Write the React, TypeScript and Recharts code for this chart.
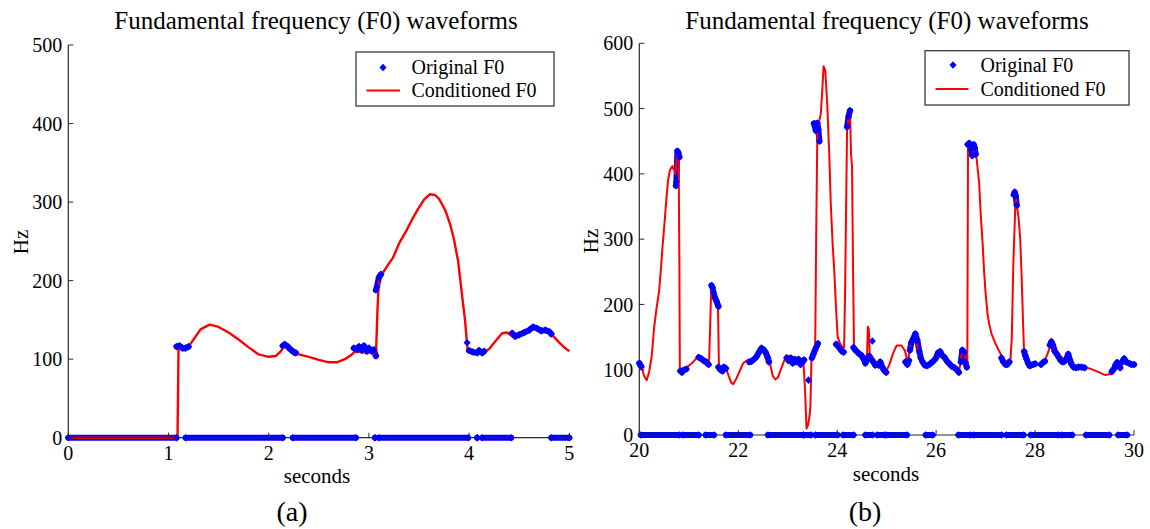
import React from 'react';
import { LineChart, Line, XAxis, YAxis } from 'recharts';

type Pt = [number, number];

const FONT = "'Liberation Serif', 'Times New Roman', Times, 'DejaVu Serif', serif";
const BLUE = '#0000ff';
const RED = '#ff0000';
const AXIS = '#2b2b2b';

const TITLE = 'Fundamental frequency (F0) waveforms';
const X_LABEL = 'seconds';
const Y_LABEL = 'Hz';
const SERIES_ORIGINAL = 'Original F0';
const SERIES_CONDITIONED = 'Conditioned F0';
const PANEL_A_CAPTION = '(a)';
const PANEL_B_CAPTION = '(b)';

// ---------------- Panel (a) ----------------
const A_X_TICKS = [0, 1, 2, 3, 4, 5];
const A_Y_TICKS = [0, 100, 200, 300, 400, 500];

const A_CONDITIONED: Pt[] = [
  [0, 0], [1.09, 0], [1.1, 112], [1.15, 114], [1.2, 116], [1.25, 125], [1.32, 138], [1.41, 144],
  [1.5, 141], [1.6, 134], [1.7, 125], [1.8, 115], [1.9, 106], [2.0, 103], [2.07, 104], [2.12, 110],
  [2.16, 117], [2.2, 113], [2.27, 107], [2.4, 103], [2.5, 99], [2.6, 96], [2.68, 96], [2.76, 100],
  [2.83, 106], [2.87, 111], [2.9, 109], [2.93, 113], [2.96, 108], [2.99, 113], [3.02, 111], [3.05, 106],
  [3.07, 104], [3.085, 160], [3.1, 202], [3.14, 210], [3.2, 222], [3.24, 229], [3.3, 247], [3.38, 265],
  [3.44, 280], [3.49, 291], [3.55, 303], [3.61, 310], [3.66, 309], [3.7, 304], [3.74, 295], [3.77, 287],
  [3.81, 272], [3.85, 252], [3.89, 225], [3.92, 192], [3.94, 170], [3.96, 149], [3.985, 111], [4.05, 110],
  [4.15, 109], [4.2, 113], [4.27, 124], [4.33, 133], [4.38, 134], [4.43, 129], [4.46, 128], [4.52, 132],
  [4.58, 135], [4.64, 140], [4.7, 137], [4.75, 135], [4.8, 134], [4.85, 128], [4.9, 121], [4.95, 115],
  [5.0, 110],
];

const A_VOICED: Pt[][] = [
  [[1.08, 116], [1.11, 117], [1.14, 114], [1.17, 114], [1.2, 116]],
  [[2.14, 117], [2.16, 119], [2.19, 116], [2.22, 112], [2.25, 109], [2.27, 108]],
  [[2.85, 114], [2.88, 112], [2.9, 116], [2.93, 111], [2.95, 117], [2.98, 110], [3.0, 114], [3.03, 110], [3.05, 112], [3.07, 104]],
  [[3.07, 188], [3.08, 192], [3.1, 204], [3.12, 208]],
  [[3.98, 121]],
  [[4.0, 111], [4.04, 109], [4.08, 108], [4.1, 111], [4.13, 108], [4.15, 110]],
  [[4.43, 133], [4.46, 129], [4.5, 131], [4.55, 134], [4.6, 137], [4.64, 141], [4.68, 139], [4.72, 136], [4.76, 137], [4.8, 135], [4.82, 132]],
];

// unvoiced frames (F0 = 0): [start, end] in seconds
const A_UNVOICED: Pt[] = [
  [0, 1.08], [1.17, 2.14], [2.24, 2.87], [3.06, 3.06], [3.1, 3.99], [4.08, 4.08], [4.13, 4.42], [4.82, 5.0],
];

// ---------------- Panel (b) ----------------
const B_X_TICKS = [20, 22, 24, 26, 28, 30];
const B_Y_TICKS = [0, 100, 200, 300, 400, 500, 600];

const B_CONDITIONED: Pt[] = [
  [20.0, 108], [20.05, 103], [20.1, 90], [20.15, 84], [20.2, 97], [20.25, 120], [20.3, 165], [20.35, 195],
  [20.4, 220], [20.44, 258], [20.47, 289], [20.51, 325], [20.54, 355], [20.58, 390], [20.62, 406], [20.67, 412],
  [20.71, 405], [20.73, 400], [20.76, 432], [20.795, 430], [20.81, 263], [20.82, 100], [20.86, 98], [20.92, 101],
  [21.0, 106], [21.09, 112], [21.15, 117], [21.2, 119], [21.3, 114], [21.38, 109], [21.41, 110], [21.43, 160],
  [21.45, 215], [21.48, 227], [21.52, 218], [21.56, 205], [21.59, 200], [21.61, 104], [21.66, 102], [21.72, 106],
  [21.76, 100], [21.8, 92], [21.86, 80], [21.9, 78], [21.96, 86], [22.03, 98], [22.1, 110], [22.17, 114],
  [22.27, 112], [22.34, 118], [22.4, 124], [22.48, 132], [22.53, 127], [22.59, 119], [22.64, 110], [22.7, 90],
  [22.75, 85], [22.8, 88], [22.86, 100], [22.92, 112], [22.97, 122], [23.02, 121], [23.06, 110], [23.1, 116],
  [23.14, 110], [23.18, 114], [23.22, 108], [23.27, 114], [23.32, 109], [23.35, 70], [23.38, 10], [23.41, 15],
  [23.44, 28], [23.46, 45], [23.48, 116], [23.52, 124], [23.555, 130], [23.575, 300], [23.6, 470], [23.64, 482],
  [23.67, 493], [23.7, 530], [23.725, 565], [23.76, 558], [23.8, 505], [23.84, 430], [23.87, 355], [23.91, 290],
  [23.94, 253], [23.98, 190], [24.01, 150], [24.06, 140], [24.1, 135], [24.14, 134], [24.16, 220], [24.2, 470],
  [24.24, 494], [24.26, 495], [24.28, 430], [24.3, 412], [24.32, 260], [24.34, 136], [24.4, 128], [24.47, 124],
  [24.54, 122], [24.58, 113], [24.6, 114], [24.62, 166], [24.64, 162], [24.66, 120], [24.71, 119], [24.78, 112],
  [24.85, 104], [24.88, 112], [24.95, 99], [24.99, 97], [25.06, 109], [25.13, 125], [25.2, 137], [25.3, 137],
  [25.37, 129], [25.43, 109], [25.47, 135], [25.52, 146], [25.58, 152], [25.63, 132], [25.68, 118], [25.74, 110],
  [25.8, 107], [25.89, 109], [25.99, 114], [26.07, 127], [26.13, 124], [26.2, 117], [26.27, 109], [26.34, 104],
  [26.41, 102], [26.46, 96], [26.5, 114], [26.53, 130], [26.57, 126], [26.6, 109], [26.63, 108], [26.645, 440],
  [26.68, 438], [26.73, 431], [26.77, 440], [26.8, 437], [26.83, 415], [26.87, 386], [26.9, 340], [26.94, 294],
  [26.97, 250], [27.0, 217], [27.04, 185], [27.07, 171], [27.12, 155], [27.2, 140], [27.27, 129], [27.35, 118],
  [27.42, 112], [27.5, 112], [27.53, 150], [27.56, 260], [27.6, 350], [27.62, 362], [27.645, 345], [27.67, 330],
  [27.7, 300], [27.73, 240], [27.76, 165], [27.78, 124], [27.84, 112], [27.9, 108], [27.98, 107], [28.1, 110],
  [28.19, 112], [28.27, 128], [28.33, 142], [28.4, 130], [28.47, 124], [28.54, 119], [28.6, 115], [28.65, 114],
  [28.68, 122], [28.72, 112], [28.76, 107], [28.85, 104], [28.95, 104], [29.1, 102], [29.2, 99], [29.3, 96],
  [29.41, 92], [29.51, 93], [29.57, 97], [29.62, 104], [29.67, 107], [29.72, 102], [29.79, 112], [29.86, 109],
  [30.0, 107],
];

const B_VOICED: Pt[][] = [
  [[20.0, 110], [20.02, 107], [20.04, 105]],
  [[20.74, 382], [20.75, 388], [20.77, 435], [20.79, 432], [20.81, 426]],
  [[20.83, 98], [20.86, 96], [20.89, 99], [20.95, 101]],
  [[21.2, 119], [21.25, 117], [21.3, 114], [21.35, 112], [21.4, 108]],
  [[21.46, 229], [21.48, 226], [21.5, 218], [21.53, 210], [21.56, 205], [21.6, 197]],
  [[21.6, 104], [21.64, 100], [21.68, 98], [21.71, 104], [21.75, 102]],
  [[22.22, 112], [22.27, 113], [22.32, 116], [22.37, 120], [22.42, 127], [22.47, 133], [22.51, 131], [22.55, 127], [22.6, 118], [22.62, 112]],
  [[22.98, 118], [23.02, 114], [23.06, 118], [23.1, 110], [23.14, 116], [23.18, 112], [23.22, 116], [23.26, 108], [23.3, 112], [23.33, 115]],
  [[23.42, 84]],
  [[23.49, 118], [23.52, 124], [23.55, 130], [23.58, 135], [23.61, 140]],
  [[23.53, 477], [23.55, 472], [23.57, 466], [23.6, 478], [23.62, 468], [23.64, 450]],
  [[23.98, 139], [24.02, 136], [24.06, 132], [24.1, 128], [24.13, 127]],
  [[24.2, 472], [24.23, 488], [24.26, 497]],
  [[24.33, 134], [24.37, 130], [24.41, 127], [24.45, 124], [24.49, 122], [24.53, 117], [24.57, 110], [24.61, 118], [24.65, 121], [24.69, 116], [24.73, 112], [24.77, 107]],
  [[24.71, 144]],
  [[24.84, 107], [24.87, 112], [24.91, 104], [24.95, 99], [24.99, 96]],
  [[25.38, 112], [25.42, 108], [25.45, 114]],
  [[25.47, 130], [25.5, 142], [25.54, 148], [25.58, 155], [25.62, 145], [25.66, 128], [25.69, 118]],
  [[25.72, 113], [25.77, 107], [25.82, 106], [25.88, 109], [25.94, 113], [25.99, 117], [26.04, 126], [26.08, 128], [26.12, 122], [26.17, 119], [26.22, 113], [26.27, 109], [26.32, 105], [26.37, 103], [26.42, 100], [26.46, 96]],
  [[26.5, 112], [26.53, 130], [26.56, 127], [26.59, 112], [26.62, 104]],
  [[26.64, 445], [26.67, 447], [26.7, 437], [26.73, 428], [26.76, 445], [26.78, 440], [26.8, 430]],
  [[27.32, 118], [27.36, 112], [27.4, 108], [27.44, 108], [27.48, 112]],
  [[27.57, 368], [27.59, 372], [27.61, 366], [27.63, 352]],
  [[27.78, 128], [27.8, 122], [27.83, 116], [27.86, 110], [27.89, 106], [27.92, 107], [27.96, 108], [28.0, 109]],
  [[28.12, 108], [28.16, 111], [28.2, 113]],
  [[28.3, 138], [28.33, 143], [28.36, 138], [28.4, 128], [28.44, 124], [28.48, 119], [28.52, 114], [28.56, 112], [28.6, 113], [28.64, 118], [28.67, 124], [28.7, 116], [28.74, 108], [28.78, 104], [28.83, 103], [28.88, 104], [28.94, 104], [29.0, 103]],
  [[29.55, 97], [29.6, 102], [29.63, 108], [29.66, 111], [29.69, 106], [29.72, 103]],
  [[29.76, 112], [29.8, 117], [29.84, 112], [29.9, 110], [29.95, 108], [30.0, 108]],
];

const B_UNVOICED: Pt[] = [
  [20.03, 20.81], [20.88, 21.2], [21.34, 21.51], [21.75, 22.24], [22.6, 23.32], [23.32, 23.47],
  [23.56, 24.01], [24.12, 24.33], [24.57, 24.71], [24.81, 24.95], [24.99, 25.41], [25.79, 25.93],
  [26.45, 26.69], [26.76, 27.32], [27.42, 27.77], [27.91, 28.47], [28.54, 28.75], [29.03, 29.5],
  [29.68, 29.86],
];

// ---------------- rendering ----------------
const X_MARGIN = 8;
const Y_MARGIN = 6;
const TICK_LEN = 5;
const TICK_FONT = 20;

const toObj = (pts: Pt[]) => pts.map(([t, f]) => ({ t, f }));

function renderDiamond(p: any) {
  const { cx, cy, index } = p;
  const key = `dm-${index}-${cx}-${cy}`;
  if (cx == null || cy == null || isNaN(cx) || isNaN(cy)) return <g key={key} />;
  return (
    <path
      key={key}
      d={`M${cx},${cy - 3.8}L${cx + 3.5},${cy}L${cx},${cy + 3.8}L${cx - 3.5},${cy}Z`}
      fill={BLUE}
      stroke="none"
    />
  );
}

function BottomTick(p: any) {
  const { x, y, payload } = p;
  const ay = y - X_MARGIN;
  return (
    <g>
      <line x1={x} x2={x} y1={ay} y2={ay - TICK_LEN} stroke={AXIS} strokeWidth={1} />
      <text x={x} y={y} dy="0.71em" textAnchor="middle" fontFamily={FONT} fontSize={TICK_FONT} fill="#000">
        {payload.value}
      </text>
    </g>
  );
}

function LeftTick(p: any) {
  const { x, y, payload } = p;
  const ax = x + Y_MARGIN;
  return (
    <g>
      <line x1={ax} x2={ax + TICK_LEN} y1={y} y2={y} stroke={AXIS} strokeWidth={1} />
      <text x={x} y={y} dy="0.355em" textAnchor="end" fontFamily={FONT} fontSize={TICK_FONT} fill="#000">
        {payload.value}
      </text>
    </g>
  );
}

function TopTick(p: any) {
  const { x, y } = p;
  return <line x1={x} x2={x} y1={y} y2={y + TICK_LEN} stroke={AXIS} strokeWidth={1} />;
}

function RightTick(p: any) {
  const { x, y } = p;
  return <line x1={x} x2={x - TICK_LEN} y1={y} y2={y} stroke={AXIS} strokeWidth={1} />;
}

interface PanelProps {
  left: number;
  width: number;
  margin: { top: number; right: number; bottom: number; left: number };
  yAxisWidth: number;
  xAxisHeight: number;
  xDomain: [number, number];
  yDomain: [number, number];
  xTicks: number[];
  yTicks: number[];
  conditioned: Pt[];
  voiced: Pt[][];
  unvoiced: Pt[];
  redWidth: number;
}

function Panel(props: PanelProps) {
  const { left, width, margin, yAxisWidth, xAxisHeight, xDomain, yDomain, xTicks, yTicks, conditioned, voiced, unvoiced, redWidth } = props;
  const axisLine = { stroke: AXIS, strokeWidth: 1.2 };
  return (
    <div style={{ position: 'absolute', left, top: 0 }}>
      <LineChart width={width} height={529} margin={margin}>
        <XAxis
          dataKey="t"
          type="number"
          domain={xDomain}
          ticks={xTicks}
          interval={0}
          height={xAxisHeight}
          tickLine={false}
          tickSize={0}
          tickMargin={X_MARGIN}
          axisLine={axisLine}
          tick={BottomTick}
        />
        <XAxis
          xAxisId="top"
          orientation="top"
          dataKey="t"
          type="number"
          domain={xDomain}
          allowDataOverflow
          ticks={xTicks}
          interval={0}
          height={0}
          tickLine={false}
          tickSize={0}
          tickMargin={0}
          axisLine={axisLine}
          tick={TopTick}
        />
        <YAxis
          type="number"
          domain={yDomain}
          ticks={yTicks}
          interval={0}
          width={yAxisWidth}
          tickLine={false}
          tickSize={0}
          tickMargin={Y_MARGIN}
          axisLine={axisLine}
          tick={LeftTick}
        />
        <YAxis
          yAxisId="right"
          orientation="right"
          type="number"
          domain={yDomain}
          allowDataOverflow
          ticks={yTicks}
          interval={0}
          width={0}
          tickLine={false}
          tickSize={0}
          tickMargin={0}
          axisLine={axisLine}
          tick={RightTick}
        />
        {unvoiced.map(([a, b], i) => (
          <Line
            key={`u${i}`}
            data={toObj([[a, 0], [b, 0]])}
            dataKey="f"
            type="linear"
            stroke={BLUE}
            strokeWidth={6}
            strokeLinecap="round"
            strokeLinejoin="round"
            dot={renderDiamond}
            activeDot={false}
            isAnimationActive={false}
            legendType="none"
          />
        ))}
        {voiced.map((seg, i) => (
          <Line
            key={`v${i}`}
            data={toObj(seg)}
            dataKey="f"
            type="linear"
            stroke={BLUE}
            strokeWidth={6}
            strokeLinecap="round"
            strokeLinejoin="round"
            dot={renderDiamond}
            activeDot={false}
            isAnimationActive={false}
            legendType="none"
          />
        ))}
        <Line
          data={toObj(conditioned)}
          dataKey="f"
          type="linear"
          stroke={RED}
          strokeWidth={redWidth}
          strokeLinejoin="round"
          dot={false}
          activeDot={false}
          isAnimationActive={false}
          legendType="none"
        />
      </LineChart>
    </div>
  );
}

function LegendBox({ x, y, w, h, markerX, lineX1, lineX2, textX, row1, row2 }: any) {
  return (
    <g>
      <rect x={x} y={y} width={w} height={h} fill="#fff" stroke="#3a3a3a" strokeWidth={1.3} />
      <path d={`M${markerX},${row1 - 3.8}L${markerX + 3.5},${row1}L${markerX},${row1 + 3.8}L${markerX - 3.5},${row1}Z`} fill={BLUE} />
      <text x={textX} y={row1 + 6.5} fontFamily={FONT} fontSize={20} fill="#000">{SERIES_ORIGINAL}</text>
      <line x1={lineX1} x2={lineX2} y1={row2} y2={row2} stroke={RED} strokeWidth={2} />
      <text x={textX} y={row2 + 6.5} fontFamily={FONT} fontSize={20} fill="#000">{SERIES_CONDITIONED}</text>
    </g>
  );
}

export default function App() {
  return (
    <div style={{ position: 'absolute', left: 0, top: 0, width: 1150, height: 529, background: '#fff', overflow: 'hidden', fontFamily: FONT }}>
      <Panel
        left={0}
        width={580}
        margin={{ top: 45, right: 10.7, bottom: 0, left: 0 }}
        yAxisWidth={68.3}
        xAxisHeight={91.3}
        xDomain={[0, 5]}
        yDomain={[0, 500]}
        xTicks={A_X_TICKS}
        yTicks={A_Y_TICKS}
        conditioned={A_CONDITIONED}
        voiced={A_VOICED}
        unvoiced={A_UNVOICED}
        redWidth={2.4}
      />
      <Panel
        left={580}
        width={570}
        margin={{ top: 43.3, right: 16, bottom: 0, left: 0 }}
        yAxisWidth={59.3}
        xAxisHeight={94}
        xDomain={[20, 30]}
        yDomain={[0, 600]}
        xTicks={B_X_TICKS}
        yTicks={B_Y_TICKS}
        conditioned={B_CONDITIONED}
        voiced={B_VOICED}
        unvoiced={B_UNVOICED}
        redWidth={2}
      />
      <svg width={1150} height={529} style={{ position: 'absolute', left: 0, top: 0, pointerEvents: 'none' }}>
        <text x={316} y={28.5} textAnchor="middle" fontFamily={FONT} fontSize={25} fill="#000">{TITLE}</text>
        <text x={887} y={28.5} textAnchor="middle" fontFamily={FONT} fontSize={25} fill="#000">{TITLE}</text>
        <text x={317} y={483} textAnchor="middle" fontFamily={FONT} fontSize={21} fill="#000">{X_LABEL}</text>
        <text x={886} y={481} textAnchor="middle" fontFamily={FONT} fontSize={21} fill="#000">{X_LABEL}</text>
        <text x={21} y={242} textAnchor="middle" dominantBaseline="central" transform="rotate(-90 21 242)" fontFamily={FONT} fontSize={21} fill="#000">{Y_LABEL}</text>
        <text x={591} y={241} textAnchor="middle" dominantBaseline="central" transform="rotate(-90 591 241)" fontFamily={FONT} fontSize={21} fill="#000">{Y_LABEL}</text>
        <text x={292} y={521} textAnchor="middle" fontFamily={FONT} fontSize={28} fill="#000">{PANEL_A_CAPTION}</text>
        <text x={865} y={521} textAnchor="middle" fontFamily={FONT} fontSize={28} fill="#000">{PANEL_B_CAPTION}</text>
        <LegendBox x={356} y={52} w={198} h={54} markerX={383} lineX1={366.5} lineX2={400} textX={411.5} row1={67.5} row2={90.5} />
        <LegendBox x={925} y={50.7} w={204} h={54.3} markerX={953} lineX1={935.5} lineX2={968.5} textX={980.5} row1={65} row2={89} />
      </svg>
    </div>
  );
}
